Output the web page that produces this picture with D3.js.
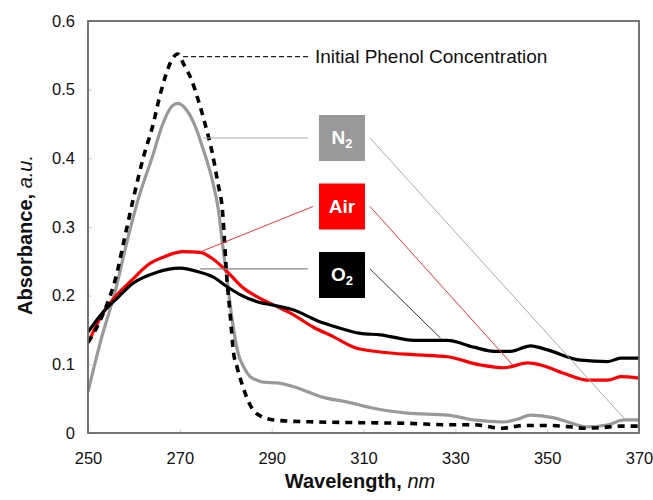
<!DOCTYPE html>
<html><head><meta charset="utf-8">
<script src="https://cdn.jsdelivr.net/npm/d3@7"></script>
<style>body{margin:0;background:#fff}svg{display:block;font-family:"Liberation Sans",Arial,sans-serif}</style>
</head><body><svg id="c" width="653" height="500"></svg>
<script>
const xTicks = [250,270,290,310,330,350,370];
const yTicks = [0,0.1,0.2,0.3,0.4,0.5,0.6];
const yTickLabels = ["0","0.1","0.2","0.3","0.4","0.5","0.6"];

const initialWl = [250,252,254,256,258,260,262,264,266,268,269.5,271,272.5,274,275.5,277,278.4,279.2,280.3,281,281.6,282.5,283.8,285,286,287.5,289,292,300,310,320,328,334,340,345,350,355,358,362,366,370];
const initialAbs = [0.132,0.155,0.185,0.225,0.285,0.345,0.40,0.445,0.50,0.54,0.552,0.535,0.515,0.485,0.45,0.41,0.36,0.33,0.22,0.17,0.122,0.095,0.066,0.045,0.033,0.025,0.021,0.018,0.016,0.015,0.014,0.012,0.012,0.007,0.011,0.011,0.009,0.007,0.008,0.010,0.010];

const n2Wl = [250,253,256,258,261,264,266.4,268.3,269.6,271.5,273.4,275,277,278.4,279.3,280.3,281.4,282.7,284,285.3,286.8,288.2,291.2,295.5,300.6,306.5,312.2,319.5,328.3,334,340.6,343.5,346.4,351.5,355,358.8,363.3,366.8,370];
const n2Abs = [0.06,0.14,0.208,0.265,0.342,0.402,0.452,0.476,0.48,0.47,0.446,0.415,0.37,0.325,0.275,0.223,0.165,0.116,0.095,0.082,0.077,0.074,0.073,0.066,0.053,0.045,0.036,0.029,0.026,0.019,0.016,0.02,0.026,0.022,0.015,0.009,0.012,0.019,0.019];

const airWl = [250,253.3,256.3,259.6,263.1,266.4,270.7,274.4,277.3,280.3,283.5,287.5,291.5,294,299.1,303.5,307.9,313.7,321,328.3,335.5,340.6,345.8,348.6,353.6,358.8,363.2,366,370];
const airAbs = [0.131,0.175,0.201,0.223,0.245,0.256,0.264,0.263,0.253,0.235,0.213,0.196,0.183,0.175,0.154,0.14,0.125,0.118,0.114,0.111,0.099,0.095,0.102,0.099,0.087,0.077,0.077,0.082,0.08];

const o2Wl = [250,253.3,256.6,259.8,265,270,274.4,277.3,280.3,283,286.5,290.4,294.8,299.8,304.2,309.3,313.7,321,328.3,334,338.4,342,346.4,350.1,357.3,363.2,366,370];
const o2Abs = [0.147,0.176,0.198,0.218,0.234,0.24,0.234,0.227,0.213,0.202,0.192,0.186,0.179,0.164,0.154,0.145,0.143,0.135,0.135,0.125,0.119,0.119,0.127,0.121,0.106,0.104,0.109,0.109];

const svg = d3.select("#c");
const L=88, R=639, T=21, B=433;
const x = d3.scaleLinear().domain([250,370]).range([L,R]);
const y = d3.scaleLinear().domain([0,0.6]).range([B,T]);

// inner faint ticks
svg.append("g").attr("transform",`translate(${L},0)`)
  .call(d3.axisRight(y).tickValues(yTicks).tickSize(4).tickFormat(""))
  .call(g=>{g.select(".domain").remove();g.selectAll("line").attr("stroke","#ccc");});
svg.append("g").attr("transform",`translate(0,${B})`)
  .call(d3.axisTop(x).tickValues(xTicks).tickSize(4).tickFormat(""))
  .call(g=>{g.select(".domain").remove();g.selectAll("line").attr("stroke","#ccc");});

// tick labels via axes
svg.append("g").attr("transform",`translate(${L},0)`)
  .call(d3.axisLeft(y).tickValues(yTicks).tickSize(0).tickPadding(13).tickFormat((d,i)=>yTickLabels[i]))
  .call(g=>{g.select(".domain").remove();g.selectAll("text").attr("font-size",16.5).attr("fill","#111").attr("font-family","Liberation Sans, Arial");});
svg.append("g").attr("transform",`translate(0,${B})`)
  .call(d3.axisBottom(x).tickValues(xTicks).tickSize(0).tickPadding(19).tickFormat(d3.format("d")))
  .call(g=>{g.select(".domain").remove();g.selectAll("text").attr("font-size",16.5).attr("fill","#111").attr("font-family","Liberation Sans, Arial");});

const line = d3.line().x(d=>x(d[0])).y(d=>y(d[1])).curve(d3.curveMonotoneX);
const zip=(a,b)=>a.map((v,i)=>[v,b[i]]);

svg.append("clipPath").attr("id","pc").append("rect").attr("x",L).attr("y",T).attr("width",R-L).attr("height",B-T);
const plot = svg.append("g").attr("clip-path","url(#pc)");

// annotation leader lines
function seg(a,b,c,d,col,w,dash){
  const l=svg.append("line").attr("x1",a).attr("y1",b).attr("x2",c).attr("y2",d).attr("stroke",col).attr("stroke-width",w||1);
  if(dash) l.attr("stroke-dasharray",dash);
}
const boxX=319, boxW=46;
const n2Y=138, airY=206.5, o2Y=275;
seg(x(270.7),y(0.548),310,y(0.548),"#222",1.2,"5,3");
seg(x(275.1),n2Y,308,n2Y,"#aaa",1.2);
seg(370,n2Y,x(366.8),y(0.021),"#aaa",1);
seg(x(274.9),y(0.265),313,airY,"#ff3030",1);
seg(370,airY,x(342.5),y(0.099),"#ff3030",1);
seg(x(274.4),y(0.239),308,y(0.239),"#888",1.2);
seg(370,y(0.239),x(326.8),y(0.138),"#333",1);

plot.append("path").datum(zip(n2Wl,n2Abs)).attr("d",line).attr("fill","none").attr("stroke","#999").attr("stroke-width",3.2);
plot.append("path").datum(zip(airWl,airAbs)).attr("d",line).attr("fill","none").attr("stroke","#ff0000").attr("stroke-width",3.2);
plot.append("path").datum(zip(o2Wl,o2Abs)).attr("d",line).attr("fill","none").attr("stroke","#000").attr("stroke-width",3.2);
plot.append("path").datum(zip(initialWl,initialAbs)).attr("d",line).attr("fill","none").attr("stroke","#000").attr("stroke-width",3.6).attr("stroke-dasharray","7,6");

// frame
svg.append("rect").attr("x",L).attr("y",T).attr("width",R-L).attr("height",B-T).attr("fill","none").attr("stroke","#666").attr("stroke-width",1.8);

// legend text
svg.append("text").attr("x",315).attr("y",y(0.548)+6.5).attr("font-size",19).attr("fill","#111").text("Initial Phenol Concentration");

function box(cy,fill,main,sub){
  svg.append("rect").attr("x",boxX).attr("y",cy-23).attr("width",boxW).attr("height",46).attr("fill",fill);
  const t=svg.append("text").attr("x",boxX+boxW/2).attr("y",cy+6).attr("text-anchor","middle").attr("font-size",19).attr("font-weight","bold").attr("fill","#fff");
  t.append("tspan").text(main);
  if(sub) t.append("tspan").attr("font-size",13).attr("dy",4).text(sub);
}
box(n2Y,"#999","N","2");
box(airY,"#ff0000","Air");
box(o2Y,"#000","O","2");

// axis titles
const xt=svg.append("text").attr("x",360).attr("y",488).attr("text-anchor","middle").attr("font-size",20).attr("fill","#111");
xt.append("tspan").attr("font-weight","bold").text("Wavelength, ");
xt.append("tspan").attr("font-style","italic").text("nm");
const yt=svg.append("text").attr("transform",`translate(32,235) rotate(-90)`).attr("text-anchor","middle").attr("font-size",20).attr("fill","#111");
yt.append("tspan").attr("font-weight","bold").text("Absorbance, ");
yt.append("tspan").attr("font-style","italic").text("a.u.");
</script></body></html>
